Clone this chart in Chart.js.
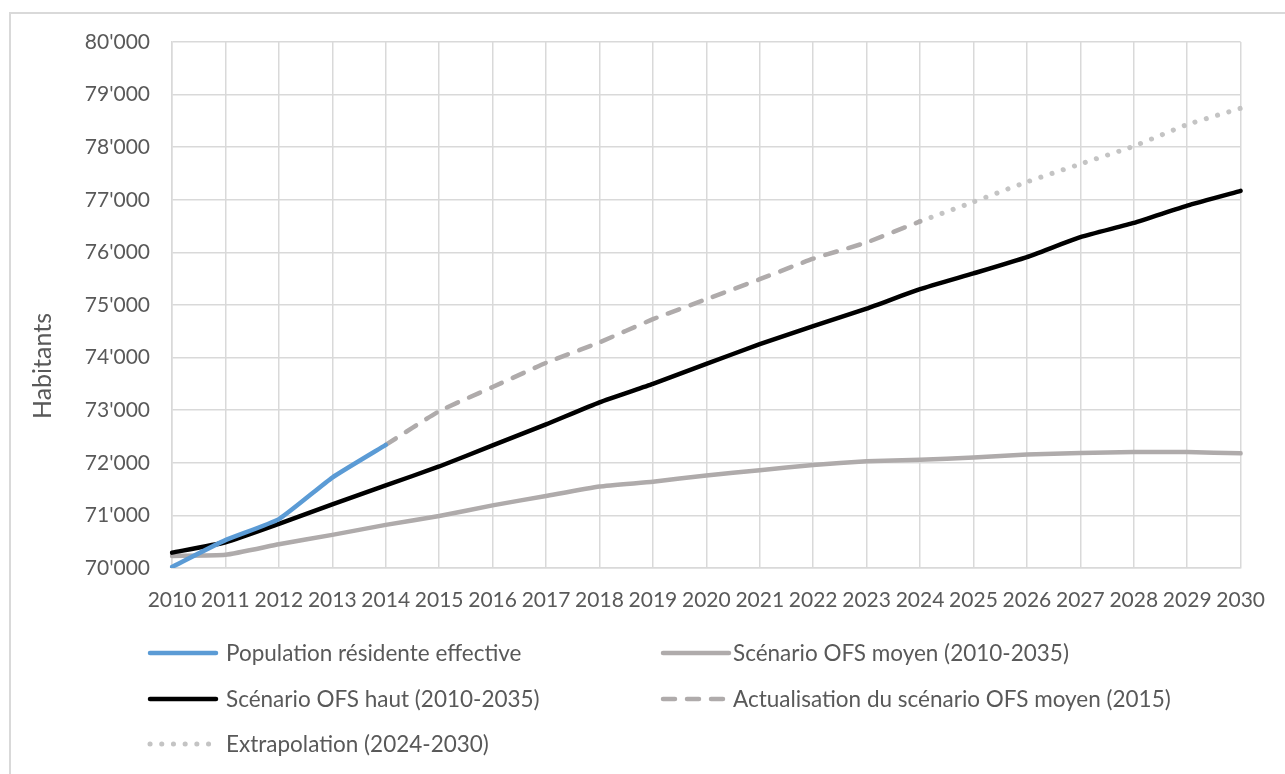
<!DOCTYPE html>
<html lang="fr">
<head>
<meta charset="utf-8">
<title>Habitants 2010-2030</title>
<script src="https://cdn.jsdelivr.net/npm/chart.js@4.4.1/dist/chart.umd.min.js"></script>
<style>
  html, body { margin: 0; padding: 0; background: #ffffff; }
  body { width: 1285px; height: 774px; position: relative; overflow: hidden; }
  #frame { position: absolute; left: 9px; top: 12px; width: 1300px; height: 800px;
           border-top: 2px solid #d9d9d9; border-left: 2px solid #d9d9d9; box-sizing: border-box; }
  #wrap { position: absolute; left: 0; top: 0; width: 1285px; height: 774px; }
</style>
</head>
<body>
<div id="frame"></div>
<div id="wrap"><canvas id="chart" width="1285" height="774"></canvas></div>
<script>
// Years on the category axis
const years = ['2010','2011','2012','2013','2014','2015','2016','2017','2018','2019','2020',
               '2021','2022','2023','2024','2025','2026','2027','2028','2029','2030'];

// Population résidente effective (2010-2014)
const populationEffective = [70020, 70530, 70930, 71720, 72340,
  null, null, null, null, null, null, null, null, null, null, null, null, null, null, null, null];

// Scénario OFS moyen (2010-2035)
const scenarioMoyen = [70230, 70250, 70450, 70630, 70820, 70990, 71190, 71370, 71550, 71640, 71760,
  71860, 71960, 72030, 72060, 72100, 72160, 72185, 72205, 72205, 72180];

// Scénario OFS haut (2010-2035)
const scenarioHaut = [70292, 70490, 70840, 71210, 71570, 71930, 72330, 72730, 73150, 73500, 73880,
  74255, 74600, 74930, 75300, 75600, 75910, 76290, 76560, 76890, 77170];

// Actualisation du scénario OFS moyen (2015), 2014-2024
const actualisation = [null, null, null, null, 72340, 72980, 73440, 73900, 74290, 74730, 75110,
  75490, 75880, 76190, 76590, null, null, null, null, null, null];

// Extrapolation (2024-2030)
const extrapolation = [null, null, null, null, null, null, null, null, null, null, null,
  null, null, null, 76590, 76960, 77340, 77680, 78020, 78430, 78740];

// Value axis range and step
const yMin = 70000;
const yMax = 80000;
const yStep = 1000;

const axisTitle = 'Habitants';

const seriesLabels = [
  'Population résidente effective',
  'Scénario OFS moyen (2010-2035)',
  'Scénario OFS haut (2010-2035)',
  "Actualisation du scénario OFS moyen (2015)",
  'Extrapolation (2024-2030)'
];

const FONT = 'Lato, "Open Sans", sans-serif';
const TEXT = '#595959';
const GRID = '#d9d9d9';

function formatThousands(v) {
  const s = Math.round(v).toString();
  return s.replace(/\B(?=(\d{3})+(?!\d))/g, "'");
}

// Vertical value-axis title, centred on the left margin
const sideTitle = {
  id: 'sideTitle',
  afterDraw(chart) {
    const ctx = chart.ctx;
    ctx.save();
    ctx.translate(43, 366);
    ctx.rotate(-Math.PI / 2);
    ctx.font = '25px ' + FONT;
    ctx.fillStyle = TEXT;
    ctx.textAlign = 'center';
    ctx.textBaseline = 'middle';
    ctx.fillText(axisTitle, 0, 0);
    ctx.restore();
  }
};

// Two-column legend drawn under the plot
const legendGrid = {
  id: 'legendGrid',
  afterDraw(chart) {
    const ctx = chart.ctx;
    const slots = [
      { ds: 0, x: 148, tx: 226, y: 653 },
      { ds: 1, x: 661, tx: 733, y: 653 },
      { ds: 2, x: 148, tx: 226, y: 699 },
      { ds: 3, x: 661, tx: 733, y: 699 },
      { ds: 4, x: 148, tx: 226, y: 744 }
    ];
    ctx.save();
    ctx.font = '22.5px ' + FONT;
    ctx.textBaseline = 'middle';
    ctx.fillStyle = TEXT;
    slots.forEach(s => {
      const d = chart.data.datasets[s.ds];
      ctx.save();
      ctx.strokeStyle = d.borderColor;
      ctx.lineWidth = d.borderWidth;
      ctx.lineCap = 'round';
      ctx.setLineDash(d.borderDash || []);
      ctx.beginPath();
      ctx.moveTo(s.x + 2, s.y);
      ctx.lineTo(s.x + 68, s.y);
      ctx.stroke();
      ctx.restore();
      ctx.fillText(d.label, s.tx, s.y + 1);
    });
    ctx.restore();
  }
};

const common = { pointRadius: 0, pointHoverRadius: 0, fill: false, spanGaps: false,
                 borderCapStyle: 'round', borderJoinStyle: 'round', tension: 0.15 };

new Chart(document.getElementById('chart'), {
  type: 'line',
  data: {
    labels: years,
    datasets: [
      Object.assign({}, common, { label: seriesLabels[0], data: populationEffective,
        borderColor: '#5b9bd5', borderWidth: 4.5, order: 1 }),
      Object.assign({}, common, { label: seriesLabels[1], data: scenarioMoyen,
        borderColor: '#afabab', borderWidth: 4.5, order: 4 }),
      Object.assign({}, common, { label: seriesLabels[2], data: scenarioHaut,
        borderColor: '#000000', borderWidth: 4.5, order: 2 }),
      Object.assign({}, common, { label: seriesLabels[3], data: actualisation,
        borderColor: '#afabab', borderWidth: 4.5, borderDash: [12, 12], order: 3 }),
      Object.assign({}, common, { label: seriesLabels[4], data: extrapolation,
        borderColor: '#c4c4c4', borderWidth: 5, borderDash: [0.1, 11.6], order: 5 })
    ]
  },
  options: {
    responsive: false,
    animation: false,
    events: [],
    layout: { padding: { left: 0, top: 42, right: 42, bottom: 156 } },
    plugins: {
      legend: { display: false },
      tooltip: { enabled: false },
      title: { display: false }
    },
    scales: {
      x: {
        type: 'category',
        offset: false,
        grid: { color: GRID, lineWidth: 1.5, drawTicks: false, offset: false },
        border: { display: true, color: GRID, width: 1.5 },
        ticks: { color: TEXT, font: { family: FONT, size: 21 }, padding: 20,
                 maxRotation: 0, minRotation: 0, autoSkip: false },
        afterFit(scale) { scale.height = 50; }
      },
      y: {
        min: yMin,
        max: yMax,
        grid: { color: GRID, lineWidth: 1.5, drawTicks: false },
        border: { display: true, color: GRID, width: 1.5 },
        ticks: { stepSize: yStep, color: TEXT, font: { family: FONT, size: 21 }, padding: 22,
                 callback: v => formatThousands(v) },
        title: { display: false },
        afterFit(scale) { scale.width = 172; }
      }
    }
  },
  plugins: [legendGrid, sideTitle]
});
</script>
</body>
</html>
